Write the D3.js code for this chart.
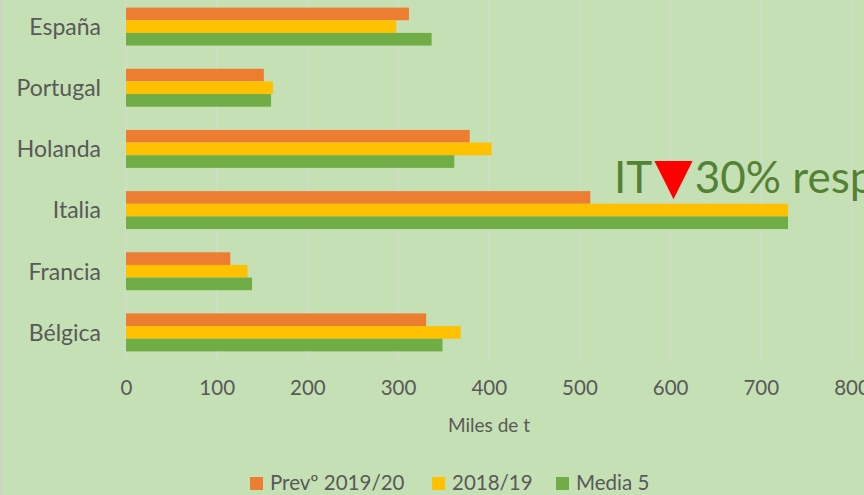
<!DOCTYPE html>
<html>
<head>
<meta charset="utf-8">
<script src="https://cdn.jsdelivr.net/npm/d3@7"></script>
<style>
  body { margin: 0; background: #C5E0B4; }
  svg { display: block; font-family: Lato, "Open Sans", sans-serif; }
</style>
</head>
<body>
<div id="chart"></div>
<script>
// data (thousand tonnes)
const countries = ["España", "Portugal", "Holanda", "Italia", "Francia", "Bélgica"];
const seriesNames = ["Prevº 2019/20", "2018/19", "Media 5"];
const prev1920 = [312, 152, 379, 512, 115, 331];
const y1819 = [298, 162, 403, 730, 134, 369];
const media5 = [337, 160, 362, 730, 139, 349];
const xTicks = [0, 100, 200, 300, 400, 500, 600, 700, 800];

const w = 864;
const h = 495;
const colors = ["#ED7D31", "#FFC000", "#70AD47"];
const textColor = "#595959";

const rows = countries.map((c, i) => ({ country: c, values: [prev1920[i], y1819[i], media5[i]] }));

const svg = d3.select("#chart")
              .append("svg")
              .attr("width", w)
              .attr("height", h);

svg.append("rect")
   .attr("width", w)
   .attr("height", h)
   .attr("fill", "#C5E0B4");

// thin frame line on the left edge
svg.append("line")
   .attr("x1", 0.5).attr("x2", 0.5)
   .attr("y1", 0).attr("y2", h)
   .attr("stroke", "#D0D0D0")
   .attr("stroke-width", 1.5);

// scales
const xScale = d3.scaleLinear()
                 .domain([0, 800])
                 .range([126, 851.5]);

const yScale = d3.scaleBand()
                 .domain(countries)
                 .range([-4, 363])
                 .paddingInner(0.38)
                 .paddingOuter(0.19);

const ySub = d3.scaleBand()
               .domain(d3.range(seriesNames.length))
               .range([0, yScale.bandwidth()]);

// gridlines
svg.append("g")
   .selectAll("line")
   .data(xTicks)
   .enter()
   .append("line")
   .attr("x1", d => xScale(d))
   .attr("x2", d => xScale(d))
   .attr("y1", 0)
   .attr("y2", 363)
   .attr("stroke", "#D9D9D9")
   .attr("stroke-width", 1);

// bars
const groups = svg.append("g")
                  .selectAll("g")
                  .data(rows)
                  .enter()
                  .append("g")
                  .attr("transform", d => "translate(0," + yScale(d.country) + ")");

groups.selectAll("rect")
      .data(d => d.values)
      .enter()
      .append("rect")
      .attr("x", xScale(0))
      .attr("y", (d, i) => ySub(i))
      .attr("width", d => xScale(d) - xScale(0))
      .attr("height", ySub.bandwidth())
      .attr("fill", (d, i) => colors[i]);

// axes
const xAxis = d3.axisBottom(xScale).tickValues(xTicks).tickSize(0).tickPadding(0);
const gx = svg.append("g")
              .attr("transform", "translate(0,380)")
              .call(xAxis);
gx.select(".domain").remove();
gx.selectAll("text")
  .attr("fill", textColor)
  .style("font-size", "20.5px")
  .style("font-family", "Lato");

const yAxis = d3.axisLeft(yScale).tickSize(0).tickPadding(25);
const gy = svg.append("g")
              .attr("transform", "translate(126,0)")
              .call(yAxis);
gy.select(".domain").remove();
gy.selectAll("text")
  .attr("fill", textColor)
  .attr("dy", "0.36em")
  .style("font-size", "23px")
  .style("font-family", "Lato");

// axis title
svg.append("text")
   .attr("x", 489)
   .attr("y", 432)
   .attr("text-anchor", "middle")
   .attr("fill", textColor)
   .style("font-size", "19px")
   .text("Miles de t");

// legend
const legendX = [250, 432, 556];
const legend = svg.append("g")
                  .selectAll("g")
                  .data(seriesNames)
                  .enter()
                  .append("g")
                  .attr("transform", (d, i) => "translate(" + legendX[i] + ",477)");
legend.append("rect")
      .attr("width", 13)
      .attr("height", 13)
      .attr("fill", (d, i) => colors[i]);
legend.append("text")
      .attr("x", 20)
      .attr("y", 12.5)
      .attr("fill", textColor)
      .style("font-size", "20.5px")
      .text(d => d);

// annotation
const note = svg.append("text")
                .attr("x", 614)
                .attr("y", 193)
                .attr("fill", "#548235")
                .style("font-size", "44px");
note.append("tspan").text("IT");
note.append("tspan")
    .attr("fill", "#FF0000")
    .style("font-family", "DejaVu Sans")
    .style("font-size", "50px")
    .attr("dx", 2)
    .text("▼");
note.append("tspan").attr("dx", 2).text("30% resp");
</script>
</body>
</html>
